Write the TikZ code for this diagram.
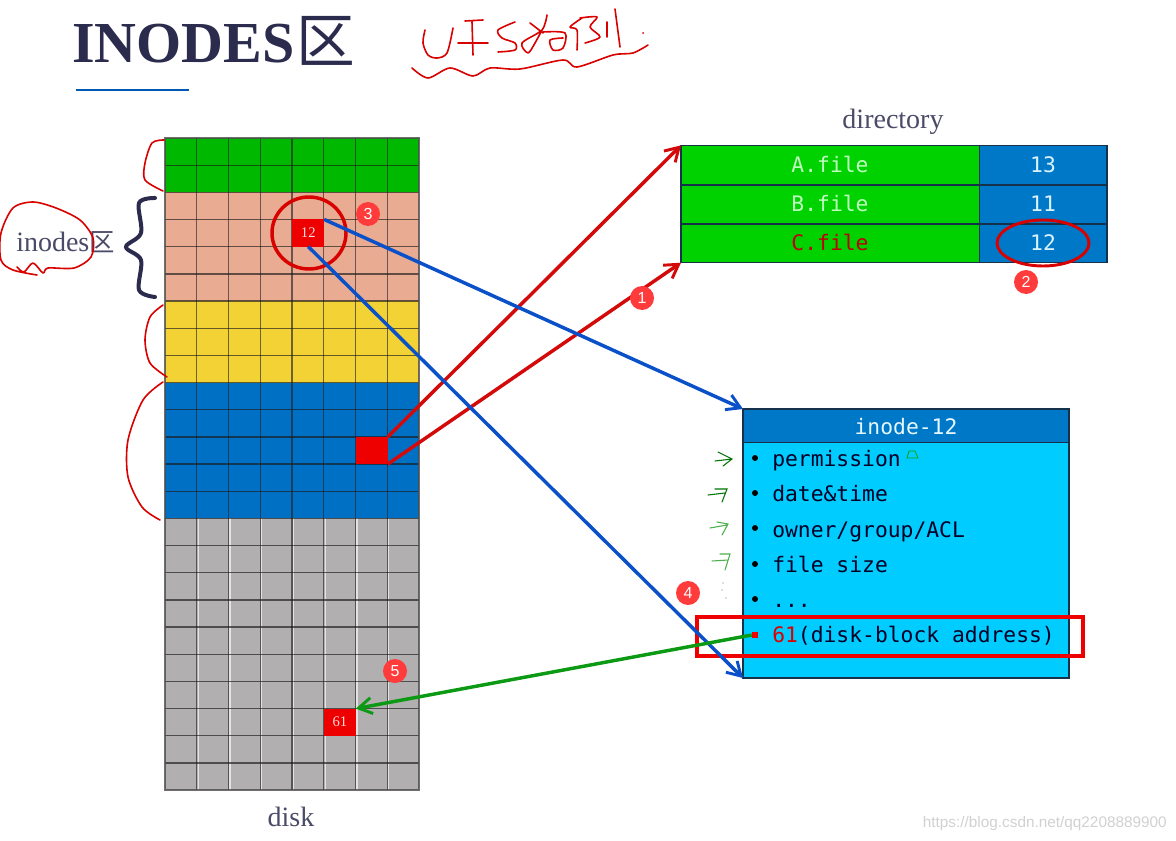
\documentclass[tikz,border=0pt]{standalone}
\usepackage{fontspec}
\setmainfont{Liberation Serif}
\setsansfont{Liberation Sans}
\setmonofont{DejaVu Sans Mono}
\newfontfamily\cjk{Noto Sans CJK SC}
\usetikzlibrary{arrows.meta}
\definecolor{navy}{HTML}{2B2B4E}
\definecolor{cgreen}{HTML}{00B800}
\definecolor{csalmon}{HTML}{E9AC92}
\definecolor{cyellow}{HTML}{F2D234}
\definecolor{cblue}{HTML}{0070C4}
\definecolor{cgray}{HTML}{B1AFAF}
\definecolor{dgreen}{HTML}{00D200}
\definecolor{dblue}{HTML}{0078C8}
\definecolor{icyan}{HTML}{00CCFF}
\definecolor{ired}{HTML}{EE0000}
\definecolor{bad}{HTML}{FF3B3B}
\definecolor{arrred}{HTML}{D40A0A}
\definecolor{arrblue}{HTML}{0A50C8}
\definecolor{arrgreen}{HTML}{0C9A14}
\definecolor{frame}{HTML}{16324A}
\tikzset{
  gridcell/.style={inner sep=0pt,outer sep=0pt,minimum width=23.81pt,minimum height=20.38pt},
  redcell/.style={gridcell,fill=ired,text=red!15!white,font=\rmfamily\fontsize{11}{11}\selectfont},
  dirleft/.style={inner sep=0pt,outer sep=0pt,fill=dgreen,minimum width=223.5pt,minimum height=29.5pt,text height=12pt,text depth=0pt,font=\ttfamily\fontsize{16}{16}\selectfont,text=green!25!white},
  dirright/.style={inner sep=0pt,outer sep=0pt,fill=dblue,minimum width=96pt,minimum height=29.5pt,text height=12pt,text depth=0pt,font=\ttfamily\fontsize{16}{16}\selectfont,text=cyan!15!white},
  item/.style={inner sep=0pt,anchor=base west,font=\ttfamily\fontsize{16}{16}\selectfont,text=black!85!blue},
  dotmark/.style={circle,fill=black,inner sep=0pt,minimum size=4.5pt},
  badge/.style={circle,fill=bad,text=white,inner sep=0pt,minimum size=18pt,font=\sffamily\fontsize{12}{12}\selectfont},
  serlabel/.style={inner sep=0pt,font=\rmfamily\fontsize{21}{21}\selectfont,text=navy!85!white},
  hand/.style={draw=red!85!black,line width=1.2pt,line cap=round,line join=round},
  flow/.style={line width=2.6pt,-{Straight Barb[length=10pt,width=12pt,line width=2.2pt]},shorten >=0pt},
  tick/.style={line width=.8pt,line cap=round},
}
\begin{document}
\begin{tikzpicture}[x=0.75pt,y=-0.75pt]
\useasboundingbox (0,0) rectangle (1176,841);
\fill[white] (0,0) rectangle (1176,841);
% title
\node[anchor=base west,inner sep=0pt,text=navy,font=\rmfamily\bfseries\fontsize{43.5}{43.5}\selectfont] (title) at (72,63) {INODES\kern1pt{\cjk\mdseries\fontsize{44}{44}\selectfont 区}};
\draw[line width=2pt,draw=blue!50!cyan!70!black] (76,90) -- (189,90);
% handwriting
\draw[hand] plot[smooth] coordinates {(425,30)(423,43)(428,55)(437,58)(447,53)(453,28)};
\draw[hand] (465,21) -- (483,20) (458,43) -- (488,43) (472,22) -- (473,55);
\draw[hand] plot[smooth] coordinates {(515,22)(498,30)(502,38)(515,43)(515,50)(498,52)};
\draw[hand] (530,23) -- (543,33);
\draw[hand] plot[smooth] coordinates {(547,15)(542,30)(522,43)(528,53)(535,43)(542,30)};
\draw[hand] plot[smooth] coordinates {(543,32)(565,33)(563,48)(553,50)(550,40)(563,38)};
\draw[hand] plot[smooth] coordinates {(582,18)(570,27)(577,30)(577,50)};
\draw[hand] plot[smooth] coordinates {(580,18)(597,17)(590,27)(600,37)(585,43)};
\draw[hand] (607,22) -- (607,37) (615,9) -- (620,47);
\fill[red!85!black] (643,33) circle (1);
\draw[hand] plot[smooth] coordinates {(412,68)(428,78)(450,68)(473,76)(490,68)(520,69)(563,60)(577,67)(613,55)(633,53)(648,45)};
% disk grid
\fill[cgreen] (165,138) rectangle (419,192.3);
\fill[csalmon] (165,192.3) rectangle (419,301);
\fill[cyellow] (165,301) rectangle (419,382.5);
\fill[cblue] (165,382.5) rectangle (419,518.4);
\fill[cgray] (165,518.4) rectangle (419,790);
\foreach \c in {1,2,3,4,5,6,7}{
  \draw[line width=.9pt,white,opacity=.65] ({165+\c*31.75+1.5},518.4) -- ({165+\c*31.75+1.5},790);
  \draw[line width=.9pt,black!85,opacity=.65] ({165+\c*31.75},138) -- ({165+\c*31.75},790);
}
\foreach \r in {1,2,...,23}{
  \draw[line width=1pt,black!90,opacity=.65] (165,{138+\r*27.17}) -- (419,{138+\r*27.17});
}
\draw[line width=1pt,black!70,opacity=.8] (165,138) rectangle (419,790);
% highlighted cells
\node[redcell] (c12) at (308.25,233) {12};
\node[redcell] (blk) at (371.75,450.6) {};
\node[redcell] (c61) at (339.9,722.2) {61};
\draw[draw=red!85!black,line width=2.6pt] (309,233) ellipse [x radius=37,y radius=36];
% labels at the left
\node[serlabel,anchor=base west] (inl) at (16,252) {inodes{\cjk\fontsize{19}{19}\selectfont 区}};
\draw[hand] plot[smooth] coordinates {(37,275)(13,270)(1,260)(1,233)(13,208)(33,202)(56,208)(80,220)(93,238)(91,257)(74,268)(48,268)(43,273)(33,263)(24,272)(17,267)};
\draw[navy,line width=3pt,line cap=round] plot[smooth,tension=.55] coordinates {(155,198)(139,203)(141,233)(126,247)(141,260)(139,290)(155,297)};
\draw[hand] plot[smooth] coordinates {(164,140)(152,143)(145,163)(145,180)(163,191)};
\draw[hand] plot[smooth] coordinates {(163,305)(150,317)(145,340)(150,363)(167,377)};
\draw[hand] plot[smooth] coordinates {(163,382)(143,400)(128,440)(128,477)(142,507)(160,520)};
\node[serlabel] (disk) at (291,817) {disk};
\node[serlabel] (dirt) at (893,122) {directory};
% directory table
\node[dirleft] (a1) at (830,165) {A.file};
\node[dirleft] (a2) at (830,204) {B.file};
\node[dirleft,text=red!75!black] (a3) at (830,243) {C.file};
\node[dirright] (b1) at (1043,165) {13};
\node[dirright] (b2) at (1043,204) {11};
\node[dirright] (b3) at (1043,243) {12};
\draw[line width=.9pt,frame] (a1.north west) rectangle (b3.south east);
\draw[line width=1.4pt,frame] (a1.south west) -- (b1.south east) (a2.south west) -- (b2.south east);
\draw[line width=.5pt,frame] (a1.north east) -- (a3.south east);
\draw[draw=red!85!black,line width=2.2pt] (b3.center) ellipse [x radius=46,y radius=23];
% inode box
\node[inner sep=0pt,outer sep=0pt,fill=icyan,minimum width=244.5pt,minimum height=201.75pt] (inode) at (906,543.5) {};
\node[inner sep=0pt,outer sep=0pt,fill=dblue,minimum width=244.5pt,minimum height=24.75pt,text height=14pt,text depth=0pt,text=cyan!10!white,font=\ttfamily\fontsize{16}{16}\selectfont] (ihead) at (906,425.5) {inode-12};
\draw[line width=.9pt,frame] (inode.north west) rectangle (inode.south east);
\draw[line width=.7pt,frame] (ihead.south west) -- (ihead.south east);
\node[item] (i1) at (772,466) {permission};
\node[item] (i2) at (772,501) {date\&time};
\node[item] (i3) at (772,537) {owner/group/ACL};
\node[item] (i4) at (772,572) {file size};
\node[item] (i5) at (772,607) {...};
\node[dotmark] (d1) at (755,458) {};
\node[dotmark] (d2) at (755,493) {};
\node[dotmark] (d3) at (755,528) {};
\node[dotmark] (d4) at (755,564) {};
\node[dotmark] (d5) at (755,599) {};
\node[item] (i6) at (772,642) {{\color{red!85!black}61}(disk-block address)};
\node[rectangle,fill=ired,inner sep=0pt,minimum size=4.5pt] (b6) at (755,635) {};
\draw[line width=3pt,draw=ired] (697,617) rectangle (1083,656);
% hand ticks
\draw[tick,green!45!black] (715,461) -- (732,459) (718,452) -- (732,459) -- (723,466);
\draw[tick,green!45!black] (708,495) -- (725,493) (715,489) -- (727,489) -- (722,502);
\draw[tick,green!55!black!70] (710,528) -- (727,525) (717,522) -- (728,524) -- (722,535);
\draw[tick,green!55!black!70] (712,561) -- (728,560) (720,554) -- (730,554) -- (725,570);
\fill[black!25] (723,583) circle (.8) (722,590) circle (.8) (726,598) circle (.8);
\draw[line width=.6pt,green!65!black] (907,458) -- (918,458) -- (915,451) -- (909,451) -- cycle;
% flows
\draw[flow,arrred] (blk.north east) -- (a1.north west);
\draw[flow,arrred] (blk.south east) -- (a3.south west);
\draw[flow,arrblue] (c12.north east) -- (ihead.north west);
\draw[flow,arrblue] (c12.south) -- (inode.south west);
\draw[flow,arrgreen] (b6.west) -- (c61.north east);
% badges
\node[badge] (n1) at (642,298) {1};
\node[badge] (n2) at (1026,282) {2};
\node[badge] (n3) at (368,214) {3};
\node[badge] (n4) at (688,593) {4};
\node[badge] (n5) at (395,671) {5};
% watermark
\node[anchor=base east,inner sep=0pt,text=black!18,font=\sffamily\fontsize{11.5}{11.5}\selectfont] (wm) at (1167,827) {https://blog.csdn.net/qq2208889900};
\end{tikzpicture}
\end{document}
